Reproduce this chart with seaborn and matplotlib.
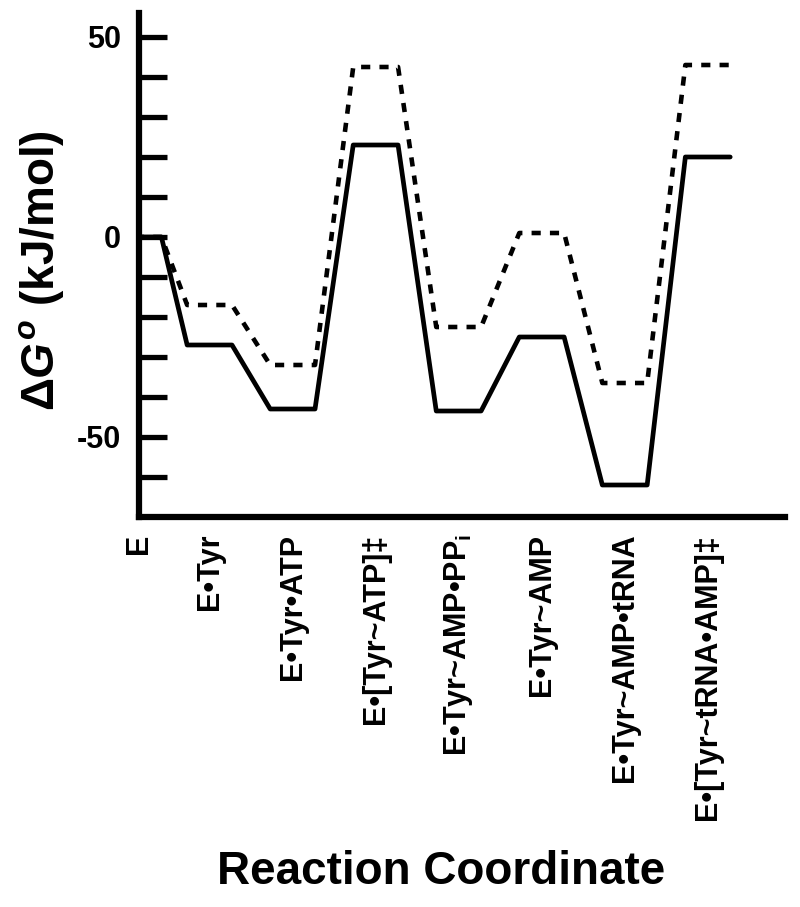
import numpy as np
import pandas as pd
import matplotlib
matplotlib.use('Agg')
import matplotlib.pyplot as plt
import seaborn as sns

# states along the reaction coordinate
states = ['E', 'E•Tyr', 'E•Tyr•ATP', 'E•[Tyr~ATP]‡', 'E•Tyr~AMP•PP$_\\mathregular{i}$',
          'E•Tyr~AMP', 'E•Tyr~AMP•tRNA', 'E•[Tyr~tRNA•AMP]‡']
state_pos = [0.15, 1, 2, 3, 4, 5, 6, 7]

# free energies (kJ/mol)
dG_solid = [0, -27, -43, 23, -43.5, -25, -62, 20]
dG_dashed = [0, -17, -32, 42.5, -22.5, 1, -36.5, 43]

half = 0.27  # half-width of each level


def profile(vals):
    xs, ys = [], []
    for c, v in zip(state_pos, vals):
        xs += [c - half, c + half]
        ys += [v, v]
    return pd.DataFrame({'x': xs, 'y': ys})


sns.set_style('ticks', {'axes.edgecolor': 'black', 'text.color': 'black',
                        'xtick.color': 'black', 'ytick.color': 'black',
                        'axes.labelcolor': 'black'})
plt.rcParams['font.family'] = ['Liberation Sans', 'DejaVu Sans']
plt.rcParams['font.weight'] = 'bold'
plt.rcParams['mathtext.fontset'] = 'custom'
plt.rcParams['mathtext.rm'] = 'Liberation Sans:bold'
plt.rcParams['mathtext.it'] = 'Liberation Sans:bold:italic'
plt.rcParams['mathtext.bf'] = 'Liberation Sans:bold'

fig = plt.figure(figsize=(8, 9.07), dpi=100)
ax = fig.add_axes([139/800, 1 - 517/907, 646/800, 504/907])

sns.lineplot(data=profile(dG_dashed), x='x', y='y', sort=False, estimator=None,
             color='black', lw=3.3, ax=ax)
ax.lines[-1].set_dashes((2.0, 2.0))
sns.lineplot(data=profile(dG_solid), x='x', y='y', sort=False, estimator=None,
             color='black', lw=3.4, ax=ax)

ax.set_xlim(0.15, 7.93)
ax.set_ylim(-70, 56)

sns.despine(ax=ax)
for s in ['left', 'bottom']:
    ax.spines[s].set_linewidth(4.5)
    ax.spines[s].set_color('black')
    ax.spines[s].set_capstyle('projecting')

yt = list(range(-60, 51, 10))
ax.set_yticks(yt)
ax.set_yticklabels([str(t) if t % 50 == 0 else '' for t in yt], fontsize=22, fontweight='bold')
ax.tick_params(axis='y', direction='in', length=20, width=3.8, pad=13, colors='black')

ax.set_xticks(state_pos)
ax.set_xticklabels(states, rotation=90, va='top', ha='center', fontsize=22, fontweight='bold')
ax.tick_params(axis='x', length=0, pad=12, colors='black')

ax.set_xlabel('')
ax.set_ylabel('')

fig.text(42/800, 1 - 271/907, r'$\Delta\mathit{G}^{o}$ (kJ/mol)', rotation=90,
         ha='center', va='center', fontsize=33, fontweight='bold', color='black')
fig.text(441/800, 1 - 872/907, 'Reaction Coordinate', ha='center', va='center',
         fontsize=33, fontweight='bold', color='black')

fig.savefig('out.png', dpi=100)
